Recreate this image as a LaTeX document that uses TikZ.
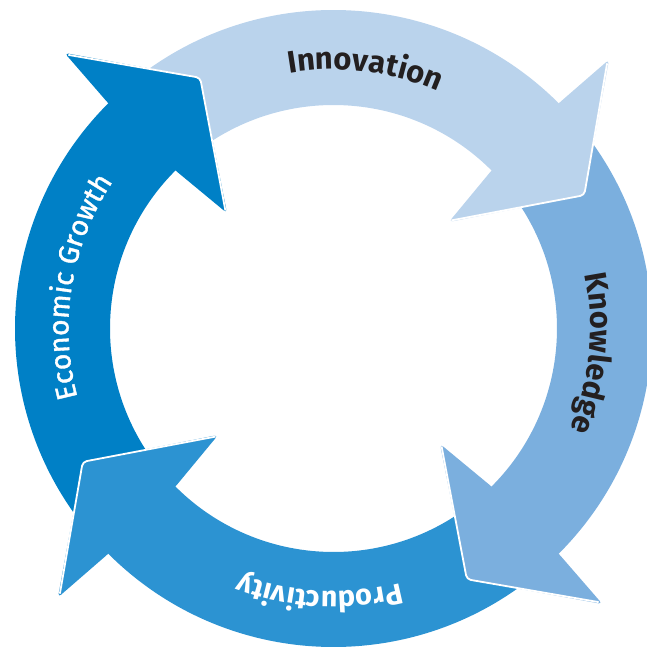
\documentclass[tikz,border=0pt]{standalone}
\usepackage{fontspec}
\setmainfont{Fira Sans}
\newfontfamily\medfont[FakeBold=1.3]{Fira Sans}
\usetikzlibrary{decorations.text}
\definecolor{cEG}{HTML}{0080C6}
\definecolor{cIN}{HTML}{BAD3EC}
\definecolor{cKN}{HTML}{7BAFDE}
\definecolor{cPR}{HTML}{2C93D2}
\definecolor{cDark}{HTML}{231F20}
\def\Ro{318.5}
\def\Ri{223.5}
\newcommand{\arrowbody}[2]{%
  \fill[#1] ({#2+85}:\Ro) arc[start angle={#2+85}, end angle={#2-1}, radius=\Ro]
    -- ({#2-1}:\Ri) arc[start angle={#2-1}, end angle={#2+85}, radius=\Ri] -- cycle;}
\newcommand{\arrowhead}[2]{%
  \fill[#1, rounded corners=4pt] (#2:\Ro) -- ({#2-0.7}:385) -- ({#2-17}:284)
    -- ({#2-2.3}:157) -- (#2:\Ri) -- cycle;
  \draw[white, line width=1.8pt, rounded corners=4pt, line join=round]
    ({#2-0.9}:381) -- ({#2-17}:284) -- ({#2-2.5}:160);}
\tikzset{arclabel/.style={decorate, decoration={text along path, text align=center}}}
\begin{document}
\begin{tikzpicture}[x=1pt,y=1pt]
\useasboundingbox (-333.5,-319.5) rectangle (312.5,328.5);
% bodies
\arrowbody{cEG}{135}
\arrowbody{cIN}{45}
\arrowbody{cKN}{-45}
\arrowbody{cPR}{-135}
% heads
\arrowhead{cEG}{135}
\arrowhead{cIN}{45}
\arrowhead{cKN}{-45}
\arrowhead{cPR}{-135}
% labels
\path[arclabel, decoration={text color=cDark, text={|\fontsize{31}{31}\selectfont\bfseries|Innovation}}]
  (123:259) arc[start angle=123, end angle=43, radius=259];
\path[arclabel, decoration={text color=cDark, text={|\fontsize{31}{31}\selectfont\bfseries|Knowledge}}]
  (34.5:257) arc[start angle=34.5, end angle=-45.5, radius=257];
\path[arclabel, decoration={text color=white, text={|\fontsize{29}{29}\selectfont\bfseries|Productivity}}]
  (-53:263) arc[start angle=-53, end angle=-133, radius=263];
\path[arclabel, decoration={text color=white, text={|\fontsize{28.5}{28.5}\medfont|Economic Growth}}]
  (215.7:265) arc[start angle=215.7, end angle=125.7, radius=265];
\end{tikzpicture}
\end{document}
